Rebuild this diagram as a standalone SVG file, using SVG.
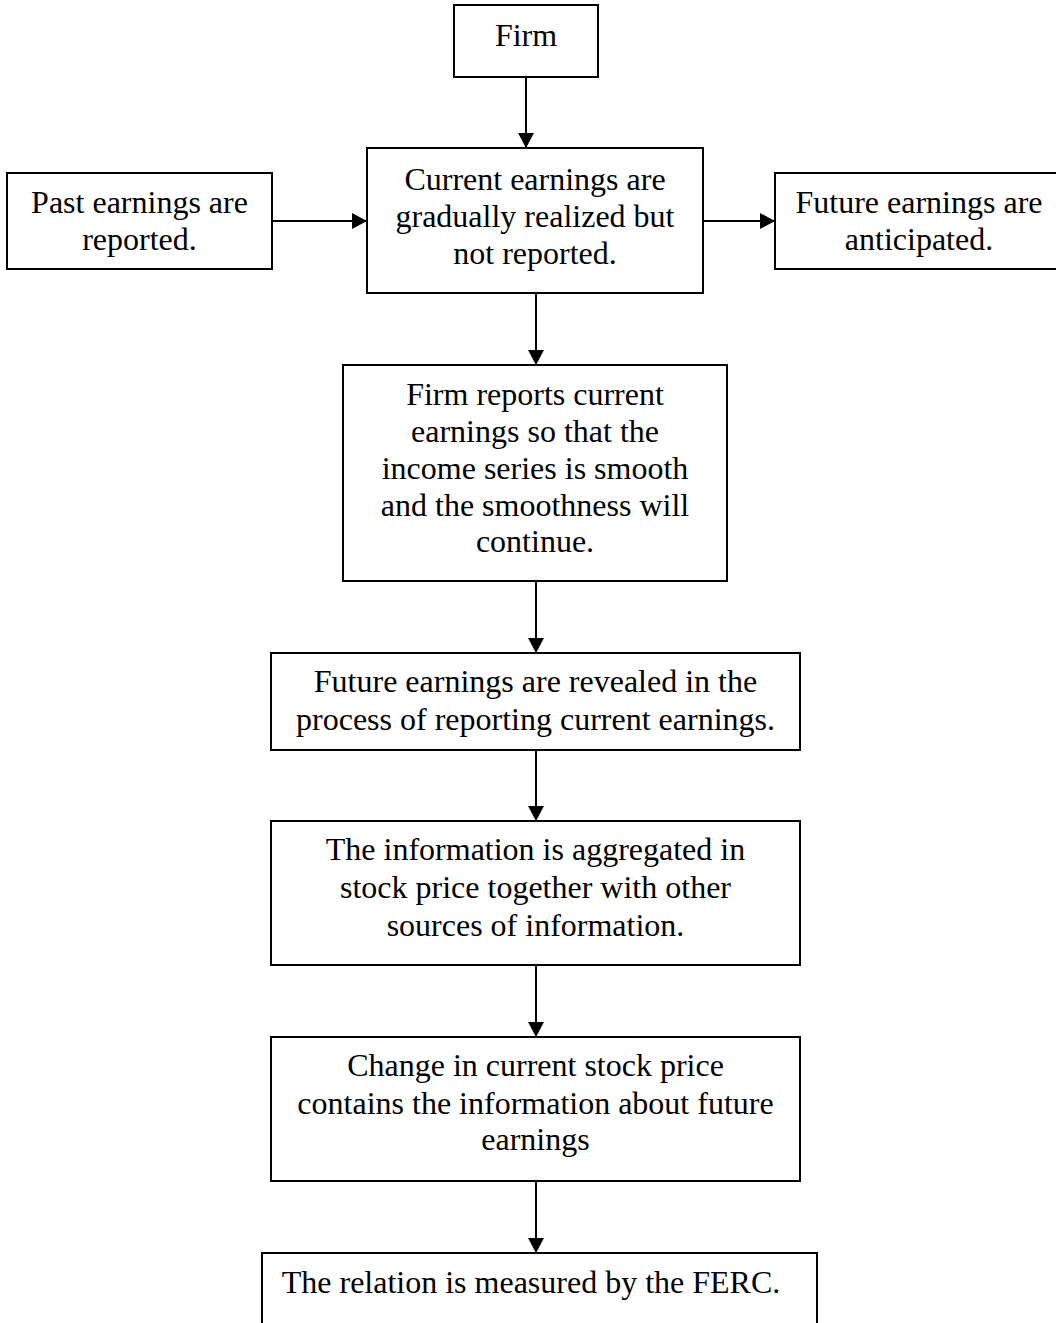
<svg xmlns="http://www.w3.org/2000/svg" width="1056" height="1323" viewBox="0 0 1056 1323">
<style>
.box{fill:#fff;stroke:#000;stroke-width:2}
.t{font-family:"Liberation Serif","Times New Roman",serif;font-size:32px;fill:#000;text-anchor:middle}
.c{stroke:#000;stroke-width:2;fill:none;marker-end:url(#ah)}
</style>
<defs>
<marker id="ah" markerUnits="userSpaceOnUse" markerWidth="16" markerHeight="16" refX="15" refY="8" orient="auto">
<path d="M0,0 L15,8 L0,16 Z" fill="#000"/>
</marker>
</defs>
<rect width="1056" height="1323" fill="#fff"/>
<g id="connectors">
<line class="c" x1="526" y1="77" x2="526" y2="148"/>
<line class="c" x1="272" y1="221" x2="367" y2="221"/>
<line class="c" x1="703" y1="221" x2="775" y2="221"/>
<line class="c" x1="536" y1="293" x2="536" y2="365"/>
<line class="c" x1="536" y1="581" x2="536" y2="653"/>
<line class="c" x1="536" y1="750" x2="536" y2="821"/>
<line class="c" x1="536" y1="965" x2="536" y2="1037"/>
<line class="c" x1="536" y1="1181" x2="536" y2="1253"/>
</g>
<g id="firm">
<rect class="box" x="454" y="5" width="144" height="72"/>
<text class="t" x="526" y="46">Firm</text>
</g>
<g id="past">
<rect class="box" x="7" y="173" width="265" height="96"/>
<text class="t" x="139.5" y="213">Past earnings are</text>
<text class="t" x="139.5" y="250">reported.</text>
</g>
<g id="current">
<rect class="box" x="367" y="148" width="336" height="145"/>
<text class="t" x="535" y="190">Current earnings are</text>
<text class="t" x="535" y="227">gradually realized but</text>
<text class="t" x="535" y="264">not reported.</text>
</g>
<g id="future">
<rect class="box" x="775" y="173" width="290" height="96"/>
<text class="t" x="919" y="213">Future earnings are</text>
<text class="t" x="919" y="250">anticipated.</text>
</g>
<g id="smooth">
<rect class="box" x="343" y="365" width="384" height="216"/>
<text class="t" x="535" y="405">Firm reports current</text>
<text class="t" x="535" y="442">earnings so that the</text>
<text class="t" x="535" y="479">income series is smooth</text>
<text class="t" x="535" y="516">and the smoothness will</text>
<text class="t" x="535" y="552">continue.</text>
</g>
<g id="revealed">
<rect class="box" x="271" y="653" width="529" height="97"/>
<text class="t" x="535.5" y="692">Future earnings are revealed in the</text>
<text class="t" x="535.5" y="730">process of reporting current earnings.</text>
</g>
<g id="aggregated">
<rect class="box" x="271" y="821" width="529" height="144"/>
<text class="t" x="535.5" y="860">The information is aggregated in</text>
<text class="t" x="535.5" y="898">stock price together with other</text>
<text class="t" x="535.5" y="936">sources of information.</text>
</g>
<g id="change">
<rect class="box" x="271" y="1037" width="529" height="144"/>
<text class="t" x="535.5" y="1076">Change in current stock price</text>
<text class="t" x="535.5" y="1114">contains the information about future</text>
<text class="t" x="535.5" y="1150">earnings</text>
</g>
<g id="ferc">
<rect class="box" x="262" y="1253" width="555" height="100"/>
<text class="t" x="531" y="1293">The relation is measured by the FERC.</text>
</g>
</svg>
